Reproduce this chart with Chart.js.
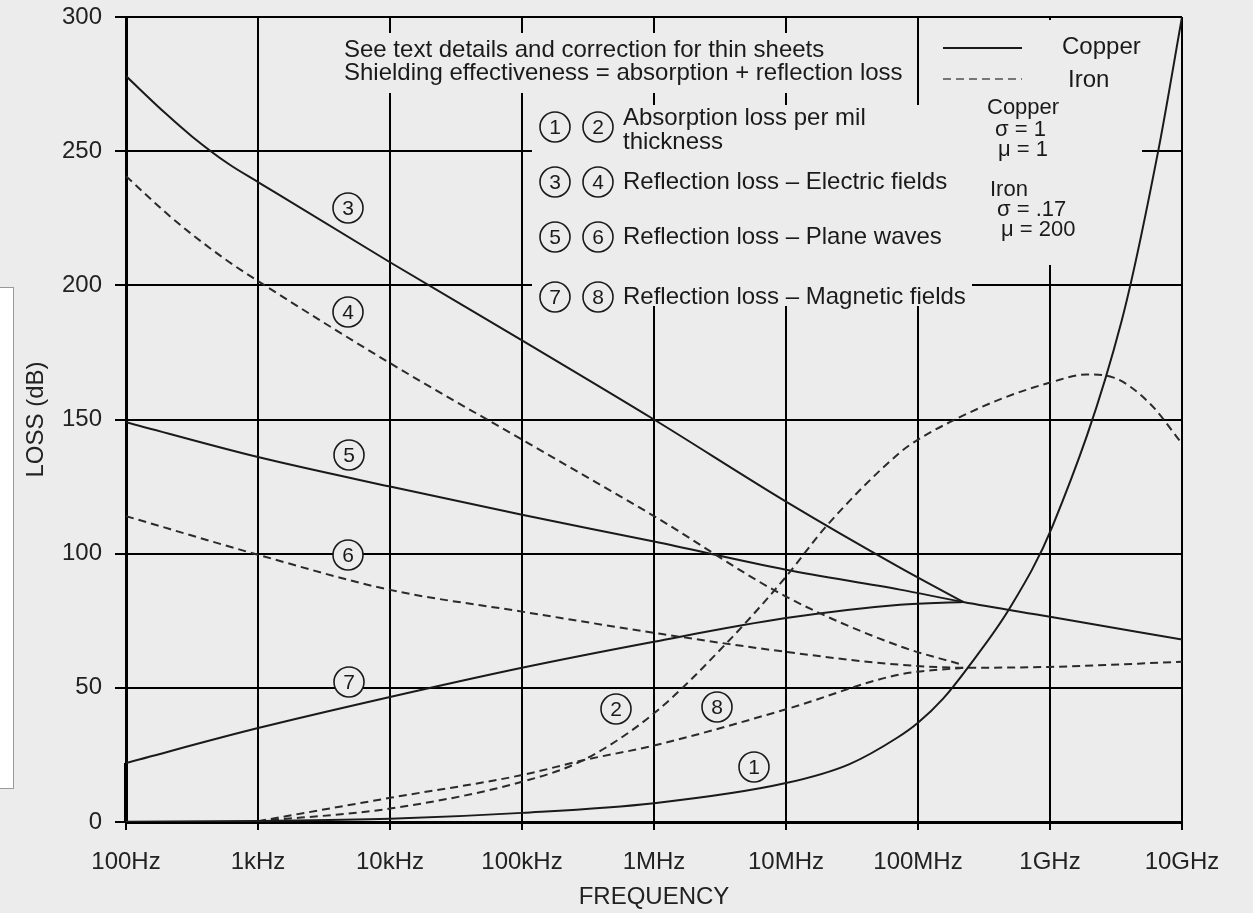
<!DOCTYPE html>
<html lang="en">
<head>
  <meta charset="UTF-8">
  <title>Shielding loss vs frequency</title>
  <script src="https://cdn.jsdelivr.net/npm/chart.js"></script>
  <style>
    html, body { margin: 0; padding: 0; background: #ececec; }
    #wrap { position: relative; width: 1253px; height: 913px; }
    #side { position: absolute; left: 0; top: 287px; width: 13px; height: 500px; background: #fff; border: 1px solid #999; border-left: none; }
    canvas { position: absolute; left: 0; top: 0; }
  </style>
</head>
<body>
  <div id="wrap">
    <div id="side"></div>
    <canvas id="lossChart" width="1253" height="913"></canvas>
  </div>

  <script>
    // axis ticks
    const freqTicks = [1e2, 1e3, 1e4, 1e5, 1e6, 1e7, 1e8, 1e9, 1e10];
    const freqLabels = ['100Hz', '1kHz', '10kHz', '100kHz', '1MHz', '10MHz', '100MHz', '1GHz', '10GHz'];
    const lossTicks = [0, 50, 100, 150, 200, 250, 300];

    // (1) copper absorption loss per mil
    const absCuF  = [1e2, 1e3, 1e4, 1e5, 1e6, 1e7, 3e7, 7e7, 1e8, 1.55e8, 2.34e8, 5e8, 1.04e9, 3.5e9, 6.6e9, 1e10];
    const absCuDb = [0.1, 0.4, 1.2, 3.4, 7, 14.5, 21.5, 31.5, 37, 46, 57, 80, 110, 187, 250, 300];
    // (2) iron absorption loss per mil
    const absFeF  = [1e3, 1e4, 1e5, 2.9e5, 1e6, 3.6e6, 1e7, 2e7, 7.3e7, 1e8, 1.74e8, 4.17e8, 1.04e9, 1.9e9, 3e9, 5.7e9, 1e10];
    const absFeDb = [0.3, 5, 15, 23, 40.5, 67, 91.4, 110, 137.7, 142.5, 149, 157.5, 164, 166.8, 165.7, 156, 141];
    // (3) copper, electric fields
    const eCuF  = [1e2, 2e2, 3.16e2, 6e2, 1e3, 1e4, 1e5, 1e6, 1e7, 7.3e7, 2.2e8];
    const eCuDb = [278, 264, 255.5, 245.2, 238.5, 208.6, 179.5, 150, 119.4, 94.8, 82];
    // (4) iron, electric fields
    const eFeF  = [1e2, 2e2, 3.16e2, 6e2, 1e3, 1e4, 1e5, 1e6, 1e7, 7.3e7, 2.2e8];
    const eFeDb = [240.7, 227.1, 219, 208.8, 201.6, 171, 142.5, 114, 84, 65.5, 58.5];
    // (5) copper, plane waves
    const pCuF  = [1e2, 1e3, 1e4, 1e5, 1e6, 1e7, 7.3e7, 2.2e8, 1e9, 1e10];
    const pCuDb = [149, 136, 125, 114.5, 104.5, 94, 86.6, 82, 76.5, 68];
    // (6) iron, plane waves
    const pFeF  = [1e2, 1e3, 1e4, 1e5, 1e6, 1e7, 7.3e7, 2.2e8, 1e9, 1e10];
    const pFeDb = [114, 99.6, 86.5, 78.4, 70.5, 63.4, 58.6, 57.5, 57.8, 59.7];
    // (7) copper, magnetic fields
    const hCuF  = [1e2, 1e3, 1e4, 1e5, 1e6, 1e7, 7.3e7, 2.2e8];
    const hCuDb = [22, 35, 46.6, 57.5, 67.2, 76, 81, 82];
    // (8) iron, magnetic fields
    const hFeF  = [1e3, 1e4, 1e5, 2.9e5, 1e6, 1e7, 7.3e7, 2.2e8];
    const hFeDb = [0.3, 9, 17.5, 23, 28.5, 42, 55, 57.5];
    // short heavy stroke on the left axis at 100Hz
    const barF  = [1e2, 1e2];
    const barDb = [0, 22];

    const BG = '#ececec';
    const INK = '#1a1a1a';
    const FONT = '"Liberation Sans", Arial, sans-serif';

    function pts(fs, dbs) {
      return fs.map((f, i) => ({ x: f, y: dbs[i] }));
    }
    function solid(fs, dbs) {
      return { data: pts(fs, dbs), borderColor: INK, borderWidth: 2 };
    }
    function dashed(fs, dbs) {
      return { data: pts(fs, dbs), borderColor: '#2a2a2a', borderWidth: 2, borderDash: [8, 5] };
    }

    // notes, legend and curve numbers; the grid is hidden behind the text blocks
    const notesPlugin = {
      id: 'notes',
      beforeDatasetsDraw(chart) {
        const ctx = chart.ctx;
        ctx.save();
        ctx.fillStyle = BG;
        ctx.fillRect(340, 33, 576, 60);
        ctx.fillRect(532, 105, 440, 201);
        ctx.fillRect(921, 20, 221, 245);

        ctx.fillStyle = INK;
        ctx.textBaseline = 'middle';
        ctx.textAlign = 'left';
        ctx.font = '24px ' + FONT;
        ctx.fillText('See text details and correction for thin sheets', 344, 50);
        ctx.fillText('Shielding effectiveness = absorption + reflection loss', 344, 73);

        const rows = [
          ['1', '2', ['Absorption loss per mil', 'thickness'], 127],
          ['3', '4', ['Reflection loss \u2013 Electric fields'], 182],
          ['5', '6', ['Reflection loss \u2013 Plane waves'], 237],
          ['7', '8', ['Reflection loss \u2013 Magnetic fields'], 297]
        ];
        rows.forEach(r => {
          circled(ctx, r[0], 555, r[3]);
          circled(ctx, r[1], 598, r[3]);
          ctx.fillStyle = INK;
          ctx.font = '24px ' + FONT;
          ctx.textAlign = 'left';
          if (r[2].length > 1) {
            ctx.fillText(r[2][0], 623, 118);
            ctx.fillText(r[2][1], 623, 142);
          } else {
            ctx.fillText(r[2][0], 623, r[3]);
          }
        });

        // line-style legend
        ctx.lineWidth = 2;
        ctx.strokeStyle = INK;
        ctx.beginPath(); ctx.moveTo(943, 48); ctx.lineTo(1022, 48); ctx.stroke();
        ctx.strokeStyle = '#777';
        ctx.setLineDash([8, 5]);
        ctx.beginPath(); ctx.moveTo(943, 79); ctx.lineTo(1022, 79); ctx.stroke();
        ctx.setLineDash([]);
        ctx.fillStyle = INK;
        ctx.font = '24px ' + FONT;
        ctx.fillText('Copper', 1062, 47);
        ctx.fillText('Iron', 1068, 80);

        ctx.font = '22px ' + FONT;
        ctx.fillText('Copper', 987, 108);
        ctx.fillText('\u03c3 = 1', 995, 130);
        ctx.fillText('\u03bc = 1', 998, 150);
        ctx.fillText('Iron', 990, 190);
        ctx.fillText('\u03c3 = .17', 997, 210);
        ctx.fillText('\u03bc = 200', 1001, 230);

        // curve numbers
        circled(ctx, '3', 348, 208);
        circled(ctx, '4', 348, 312);
        circled(ctx, '5', 349, 455);
        circled(ctx, '6', 348, 555);
        circled(ctx, '7', 349, 682);
        circled(ctx, '2', 616, 709);
        circled(ctx, '8', 717, 707);
        circled(ctx, '1', 754, 767);
        ctx.restore();
      }
    };

    function circled(ctx, txt, x, y) {
      ctx.save();
      ctx.beginPath();
      ctx.arc(x, y, 15, 0, Math.PI * 2);
      ctx.fillStyle = BG;
      ctx.fill();
      ctx.lineWidth = 1.6;
      ctx.strokeStyle = INK;
      ctx.stroke();
      ctx.fillStyle = INK;
      ctx.font = '21px ' + FONT;
      ctx.textAlign = 'center';
      ctx.textBaseline = 'middle';
      ctx.fillText(txt, x, y + 1);
      ctx.restore();
    }

    const lossChart = new Chart(document.getElementById('lossChart'), {
      type: 'line',
      data: {
        datasets: [
          solid(absCuF, absCuDb),
          dashed(absFeF, absFeDb),
          solid(eCuF, eCuDb),
          dashed(eFeF, eFeDb),
          solid(pCuF, pCuDb),
          dashed(pFeF, pFeDb),
          solid(hCuF, hCuDb),
          dashed(hFeF, hFeDb),
          { data: pts(barF, barDb), borderColor: '#000', borderWidth: 4, clip: false }
        ]
      },
      options: {
        responsive: false,
        animation: false,
        layout: { padding: { top: 17, right: 71, left: 0, bottom: 0 } },
        plugins: { legend: { display: false }, tooltip: { enabled: false } },
        elements: {
          point: { radius: 0 },
          line: { cubicInterpolationMode: 'monotone' }
        },
        scales: {
          x: {
            type: 'logarithmic',
            min: 1e2,
            max: 1e10,
            afterBuildTicks: axis => { axis.ticks = freqTicks.map(v => ({ value: v })); },
            afterFit: axis => { axis.height = 91; axis.paddingLeft = 0; axis.paddingRight = 0; },
            ticks: {
              autoSkip: false,
              maxRotation: 0,
              padding: 18,
              color: '#222',
              font: { family: FONT, size: 24 },
              callback: v => freqLabels[freqTicks.indexOf(v)] || ''
            },
            grid: { color: '#000', lineWidth: 2, tickLength: 8 },
            border: { color: '#000', width: 3 },
            title: {
              display: true,
              text: 'FREQUENCY',
              color: '#222',
              font: { family: FONT, size: 24 },
              padding: { top: 0, bottom: 1 }
            }
          },
          y: {
            min: 0,
            max: 300,
            afterBuildTicks: axis => { axis.ticks = lossTicks.map(v => ({ value: v })); },
            afterFit: axis => { axis.width = 126; axis.paddingTop = 0; axis.paddingBottom = 0; },
            ticks: {
              padding: 13,
              color: '#222',
              font: { family: FONT, size: 24 }
            },
            grid: { color: '#000', lineWidth: 2, tickLength: 11 },
            border: { color: '#000', width: 3 },
            title: {
              display: true,
              text: 'LOSS (dB)',
              color: '#222',
              font: { family: FONT, size: 24 },
              padding: { top: 22, bottom: 0 }
            }
          }
        }
      },
      plugins: [notesPlugin]
    });
  </script>
</body>
</html>
